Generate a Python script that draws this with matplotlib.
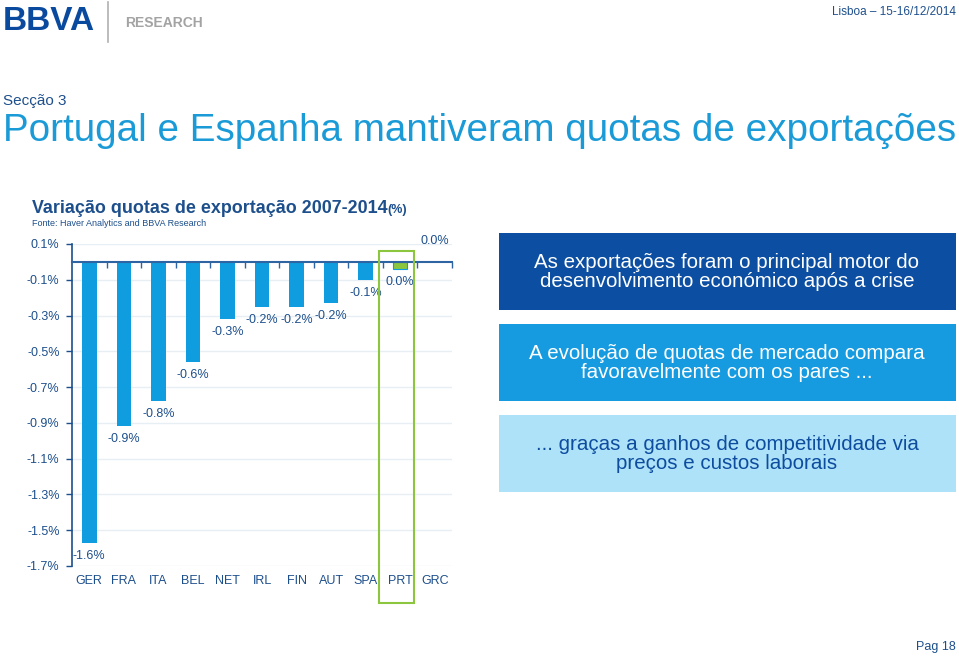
import numpy as np
import matplotlib
matplotlib.use("Agg")
import matplotlib.pyplot as plt
from matplotlib.patches import Rectangle

plt.rcParams['font.family'] = ['Liberation Sans', 'DejaVu Sans']

# data (% change 2007-2014)
countries = ["GER", "FRA", "ITA", "BEL", "NET", "IRL", "FIN", "AUT", "SPA", "PRT", "GRC"]
values = [-1.57, -0.92, -0.78, -0.56, -0.32, -0.25, -0.25, -0.23, -0.10, -0.04, 0.003]
labels = ["-1.6%", "-0.9%", "-0.8%", "-0.6%", "-0.3%", "-0.2%", "-0.2%", "-0.2%", "-0.1%", "0.0%", "0.0%"]
yticks = [0.1, -0.1, -0.3, -0.5, -0.7, -0.9, -1.1, -1.3, -1.5, -1.7]
highlight = "PRT"

boxes = [
    "As exportações foram o principal motor do\ndesenvolvimento económico após a crise",
    "A evolução de quotas de mercado compara\nfavoravelmente com os pares ...",
    "... graças a ganhos de competitividade via\npreços e custos laborais",
]

# colours
NAVY = "#1d4f8c"
BAR = "#0f9ddf"
GREEN = "#8cc63f"
box_colors = ["#0b4ea2", "#179be0", "#ade2f8"]
box_text = ["white", "white", "#0d4c9f"]

W, H = 959, 656
fig = plt.figure(figsize=(W / 100, H / 100), dpi=100)


def fx(x):
    return x / W


def fy(y):
    return 1 - y / H


# header
fig.text(fx(3), fy(22), "BBVA", fontsize=24, fontweight="bold", color="#0a4a9e",
         va="center", ha="left")
fig.add_artist(plt.Line2D([fx(108), fx(108)], [fy(2), fy(42)], color="#b0b0b0", lw=1.2))
fig.text(fx(125), fy(23), "RESEARCH", fontsize=10, fontweight="bold", color="#a3a3a3",
         va="center", ha="left")
fig.text(fx(956), fy(12), "Lisboa – 15-16/12/2014", fontsize=8.5, color=NAVY,
         va="center", ha="right")

fig.text(fx(3), fy(101), "Secção 3", fontsize=11, color=NAVY, va="center", ha="left")
fig.text(fx(3), fy(131), "Portugal e Espanha mantiveram quotas de exportações", fontsize=27.8,
         color="#1a9bd7", va="center", ha="left")

# chart title
t = fig.text(fx(32), fy(208), "Variação quotas de exportação 2007-2014", fontsize=12.9,
             fontweight="bold", color=NAVY, va="center", ha="left")
fig.canvas.draw()
bb = t.get_window_extent()
fig.text(bb.x1 / W, fy(210), "(%)", fontsize=9, fontweight="bold", color=NAVY,
         va="center", ha="left")
fig.text(fx(32), fy(223), "Fonte: Haver Analytics and BBVA Research", fontsize=6.5,
         color=NAVY, va="center", ha="left")

# bar chart
ax = fig.add_axes([fx(72), fy(566), (452 - 72) / W, (566 - 244) / H])
x = np.arange(len(countries))
colors = [GREEN if c == highlight else BAR for c in countries]
edges = [BAR if c == highlight else "none" for c in countries]
ax.bar(x, values, width=0.42, color=colors, edgecolor=edges, linewidth=0.8, zorder=3)

ax.set_xlim(-0.5, len(countries) - 0.5)
ax.set_ylim(-1.7, 0.1)
ax.set_yticks(yticks)
ax.set_yticklabels([f"{v:.1f}%" for v in yticks])
ax.tick_params(axis="y", direction="out", length=4, width=1, color=NAVY,
               labelcolor=NAVY, labelsize=9, pad=5)
for v in yticks:
    ax.axhline(v, color="#e8eff4", lw=1, zorder=0)

for s in ["top", "right"]:
    ax.spines[s].set_visible(False)
ax.spines["left"].set_color(NAVY)
ax.spines["left"].set_linewidth(1.2)
ax.spines["bottom"].set_position(("data", 0))
ax.spines["bottom"].set_color("#2f64a3")
ax.spines["bottom"].set_linewidth(1.5)
ax.spines["bottom"].set_zorder(4)
ax.set_xticks(x)
ax.set_xticklabels([])
ax.tick_params(axis="x", which="major", length=0)
ax.set_xticks(x + 0.5, minor=True)
ax.tick_params(axis="x", which="minor", direction="out", length=4, width=1, color="#2f64a3")

for i, c in enumerate(countries):
    ax.text(i, -0.047, c, transform=ax.get_xaxis_transform(), fontsize=9,
            color=NAVY, ha="center", va="center")

for i, (v, lab) in enumerate(zip(values, labels)):
    if v < 0:
        ax.annotate(lab, (i, v), xytext=(0, -5), textcoords="offset points",
                    ha="center", va="top", fontsize=9, color=NAVY)
    else:
        ax.annotate(lab, (i, v), xytext=(0, 10), textcoords="offset points",
                    ha="center", va="bottom", fontsize=9, color=NAVY)

hi = countries.index(highlight)
ax.add_patch(Rectangle((hi - 0.61, -1.908), 1.0, 1.967, fill=False, edgecolor=GREEN,
                       lw=1.5, clip_on=False, zorder=5))

# text boxes on the right
box_tops = [233, 324, 415]
for top, txt, fc, tc in zip(box_tops, boxes, box_colors, box_text):
    fig.add_artist(Rectangle((fx(499), fy(top + 77)), (956 - 499) / W, 77 / H,
                             facecolor=fc, edgecolor="none"))
    fig.text(fx(727), fy(top + 39), txt, fontsize=14.8, color=tc, ha="center",
             va="center", linespacing=0.98)

fig.text(fx(956), fy(647), "Pag 18", fontsize=9, color=NAVY, ha="right", va="center")

fig.savefig("out.png", dpi=100)
